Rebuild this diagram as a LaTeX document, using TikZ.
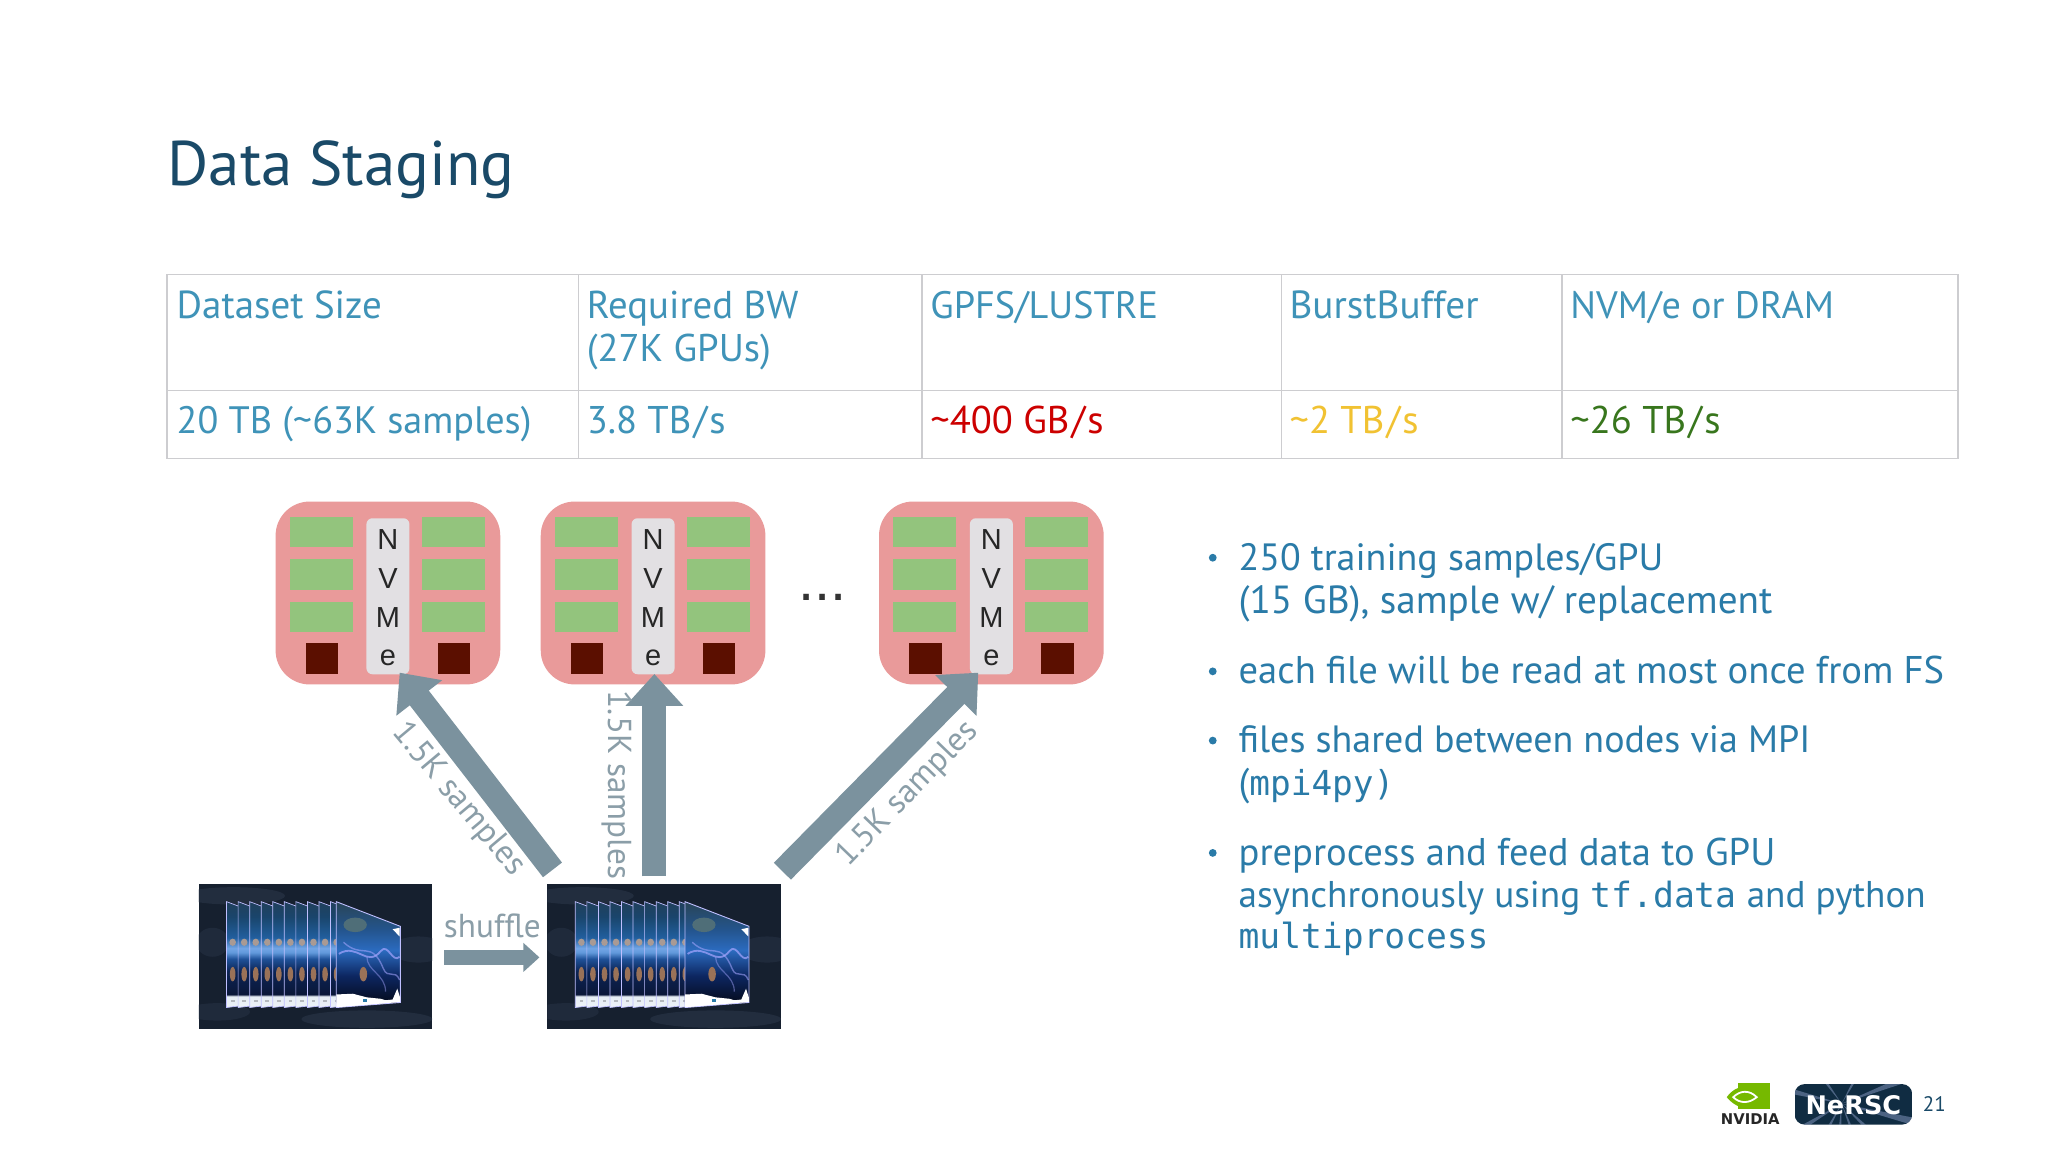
\documentclass[tikz,border=0pt]{standalone}
\usepackage{fontspec}
\setmainfont{PT Sans}
\newfontfamily\monof{DejaVu Sans Mono}
\newfontfamily\helv{Liberation Sans}
\newfontfamily\heavy{DejaVu Sans}
\usetikzlibrary{arrows.meta,shapes.geometric}
\definecolor{titlec}{HTML}{1A4A68}
\definecolor{tabc}{HTML}{3F93B8}
\definecolor{bodyc}{HTML}{2A7BA8}
\definecolor{gridc}{HTML}{CDCDD0}
\definecolor{pinkc}{HTML}{E99A9A}
\definecolor{greenc}{HTML}{93C47D}
\definecolor{darkc}{HTML}{5B0F00}
\definecolor{barc}{HTML}{E2E0E3}
\definecolor{arrowc}{HTML}{7B929E}
\definecolor{labelc}{HTML}{8B9EA8}
\definecolor{redv}{HTML}{CC0000}
\definecolor{yelv}{HTML}{F1C232}
\definecolor{grnv}{HTML}{38761D}
\definecolor{imgbg}{HTML}{16202F}
\definecolor{cloudc}{HTML}{2E3A4E}
\definecolor{orangec}{HTML}{9A7258}
\definecolor{tanc}{HTML}{A99A94}
\definecolor{landc}{HTML}{4F6E78}
\definecolor{nvgreen}{HTML}{76B900}
\definecolor{nerscbg}{HTML}{102C42}
\definecolor{stampc}{HTML}{B4B8BE}
\pgfdeclareverticalshading{panelshade}{100bp}{
 rgb(0bp)=(0.93,0.95,0.97); rgb(25bp)=(0.93,0.95,0.97); rgb(30.5bp)=(0.90,0.93,0.96); rgb(31bp)=(0.04,0.09,0.22);
 rgb(42bp)=(0.05,0.14,0.33); rgb(48bp)=(0.12,0.32,0.60); rgb(51bp)=(0.38,0.60,0.86);
 rgb(53bp)=(0.45,0.65,0.90); rgb(58bp)=(0.13,0.37,0.62); rgb(68bp)=(0.10,0.27,0.42); rgb(75bp)=(0.13,0.25,0.36); rgb(100bp)=(0.13,0.25,0.36)}
\pgfdeclareverticalshading{bigshade}{100bp}{
 rgb(0bp)=(1,1,1); rgb(25bp)=(1,1,1); rgb(27bp)=(1,1,1); rgb(28bp)=(0.02,0.05,0.13);
 rgb(40bp)=(0.05,0.15,0.38); rgb(52bp)=(0.17,0.42,0.75); rgb(62bp)=(0.14,0.33,0.55); rgb(75bp)=(0.16,0.27,0.34); rgb(100bp)=(0.16,0.27,0.34)}
\tikzset{
 fs/.style={font=\fontsize{#1}{#1}\selectfont},
 titletext/.style={anchor=base west,inner sep=0pt,text=titlec,fs=31.5},
 tabtext/.style={anchor=base west,inner sep=0pt,text=tabc,fs=19.3},
 bullettext/.style={anchor=base west,inner sep=0pt,text=bodyc,fs=19.2},
 bulletdot/.style={circle,fill=bodyc,inner sep=0pt,minimum size=3.9pt},
 grid/.style={draw=gridc,line width=0.7pt},
 nvletter/.style={inner sep=0pt,text=black!85,font=\helv\fontsize{14.5}{14.5}\selectfont},
 fatarrow/.style={draw=arrowc,line width=12pt,-{Triangle[length=16pt,width=28pt]}},
 smallarrow/.style={draw=arrowc,line width=7.2pt,-{Triangle[length=8pt,width=14pt]}},
 flowlabel/.style={inner sep=0pt,text=labelc,fs=16.6},
}
\newcommand{\slsh}{\kern1.1pt/\kern1.1pt}
\newcommand{\hpcnode}[2]{%
 \begin{scope}[shift={(#1,384)}]
  \fill[pinkc,rounded corners=17pt] (0,0) rectangle (172,140);
  \foreach \yy/\zz in {12/35,44/68,77/100}{
   \fill[greenc] (11,\yy) rectangle (59,\zz);
   \fill[greenc] (112,\yy) rectangle (160,\zz);}
  \fill[darkc] (23,108) rectangle (48,132);
  \fill[darkc] (124,108) rectangle (149,132);
  \node[fill=barc,rounded corners=3pt,inner sep=0pt,minimum width=21.5pt,minimum height=78pt] (bar#2) at (86,72.5) {};
  \node[nvletter] (n#2) at (86,29) {N};
  \node[nvletter] (v#2) at (86,59) {V};
  \node[nvletter] (m#2) at (86,89) {M};
  \node[nvletter] (e#2) at (86,120) {e};
 \end{scope}}
\newcommand{\satimage}[2]{%
 \begin{scope}[shift={(#1,677)},x=116.9pt,y=-72.5pt]
  \fill[imgbg] (0,0) rectangle (1,1);
  \begin{scope}
   \clip (0,0) rectangle (1,1);
   \fill[cloudc,opacity=.5] (.15,.08) ellipse (.22 and .06);
   \fill[cloudc,opacity=.5] (.72,.93) ellipse (.28 and .06);
   \fill[cloudc,opacity=.4] (.94,.45) ellipse (.12 and .09);
   \fill[cloudc,opacity=.4] (.08,.88) ellipse (.14 and .06);
   \fill[cloudc,opacity=.4] (.06,.4) ellipse (.07 and .1);
  \end{scope}
  \foreach \i in {0,...,9}{
   \pgfmathsetmacro{\ua}{.12+\i*.0494}
   \pgfmathsetmacro{\ub}{\ua+.0494+.025}
   \pgfmathsetmacro{\uc}{\ua+.026}
   \shade[shading=panelshade,draw=white!75!blue,line width=.35pt]
     (\ua,.12) -- (\ub,.165) -- (\ub,.835) -- (\ua,.85) -- cycle;
   \fill[orangec] (\uc,.62) ellipse (.012 and .05);
   \fill[tanc] (\uc,.40) ellipse (.014 and .025);
   \fill[stampc] (\ua+.018,.795) rectangle (\ua+.034,.815);
  }
  \shade[shading=bigshade,draw=white!75!blue,line width=.45pt]
    (.589,.12) -- (.863,.29) -- (.863,.815) -- (.589,.85) -- cycle;
  \fill[landc] (.67,.28) ellipse (.05 and .05);
  \fill[orangec] (.705,.62) ellipse (.016 and .05);
  \fill[white] (.83,.31) -- (.86,.3) -- (.86,.36) -- cycle;
  \draw[white!65!blue,opacity=.7,line width=.9pt] (.6,.48) .. controls (.68,.40) and (.72,.58) .. (.78,.46) .. controls (.81,.40) and (.83,.55) .. (.86,.50);
  \draw[white!65!blue,opacity=.55,line width=.7pt] (.62,.40) .. controls (.70,.52) and (.74,.38) .. (.79,.58) .. controls (.81,.66) and (.84,.58) .. (.86,.66);
  \draw[white!65!blue,opacity=.45,line width=.6pt] (.72,.50) .. controls (.72,.60) and (.80,.62) .. (.80,.74);
  \fill[white] (.59,.76) -- (.66,.755) -- (.72,.78) -- (.78,.79) -- (.80,.80) -- (.83,.795) -- (.85,.72) -- (.862,.78) -- (.862,.812) -- (.59,.848) -- cycle;
  \fill[bodyc] (.705,.79) rectangle (.722,.815);
 \end{scope}}
\begin{document}
\begin{tikzpicture}[x=0.65306pt,y=-0.65306pt]
\useasboundingbox (0,0) rectangle (1568,882);
\fill[white] (0,0) rectangle (1568,882);

% title
\node[titletext] (title) at (128,142) {Data Staging};

% table
\draw[grid] (128,210) rectangle (1499,351);
\draw[grid] (128,299) -- (1499,299);
\foreach \xx in {443,706,981,1196} \draw[grid] (\xx,210) -- (\xx,351);
\node[tabtext,fs=19.5] (h1) at (135,244) {Dataset Size};
\node[tabtext,fs=19.4] (h2) at (449,244) {Required BW};
\node[tabtext] (h2b) at (449,277) {(27K GPUs)};
\node[tabtext,fs=19.1] (h3) at (712,244) {GPFS/LUSTRE};
\node[tabtext,fs=19.6] (h4) at (987,244) {BurstBuffer};
\node[tabtext,fs=19.1] (h5) at (1202,244) {NVM/e or DRAM};
\node[tabtext,fs=19.1] (c1) at (135,332) {20 TB (\textasciitilde 63K samples)};
\node[tabtext] (c2) at (449,332) {3.8 TB\slsh s};
\node[tabtext,text=redv] (c3) at (712,332) {\textasciitilde 400 GB\slsh s};
\node[tabtext,text=yelv] (c4) at (987,332) {\textasciitilde 2 TB\slsh s};
\node[tabtext,text=grnv] (c5) at (1202,332) {\textasciitilde 26 TB\slsh s};

% compute nodes
\hpcnode{211}{A}
\hpcnode{414}{B}
\hpcnode{673}{C}
\node[inner sep=0pt,text=black!80,font=\helv\fontsize{29}{29}\selectfont] (dots) at (629.5,457) {...};

% images
\satimage{152}{L}
\satimage{419}{R}
\coordinate (tailA) at (423,666);
\coordinate (tailB) at (501,671);
\coordinate (tailC) at (599,667);
\coordinate (tipA) at (306,515);
\coordinate (tipB) at (501,516);
\coordinate (tipC) at (749,515);
\coordinate (shufA) at (340,733);
\coordinate (shufB) at (413,733);

% arrows
\draw[fatarrow] (tailA) -- (tipA);
\draw[fatarrow] (tailB) -- (tipB);
\draw[fatarrow] (tailC) -- (tipC);
\draw[smallarrow] (shufA) -- (shufB);

% flow labels
\node[flowlabel,rotate=-50] (la) at (351,612) {1.5K samples};
\node[flowlabel,rotate=-90] (lb) at (472,601) {1.5K samples};
\node[flowlabel,rotate=46] (lc) at (695,608) {1.5K samples};
\node[flowlabel,anchor=base] (ls) at (377,718) {shuffle};

% bullets
\node[bulletdot] (b1) at (928.5,427) {};
\node[bulletdot] (b2) at (928.5,514) {};
\node[bulletdot] (b3) at (928.5,567) {};
\node[bulletdot] (b4) at (928.5,653) {};
\node[bullettext,fs=19] (t1) at (948,437) {250 training samples/GPU};
\node[bullettext,fs=19.6] (t1b) at (948,470) {(15 GB), sample w/ replacement};
\node[bullettext,fs=19.3] (t2) at (948,523.5) {each file will be read at most once from FS};
\node[bullettext,fs=19] (t3) at (948,576.5) {files shared between nodes via MPI};
\node[bullettext] (t3b) at (948,609) {(\monof\fontsize{17.2}{17.2}\selectfont mpi4py)};
\node[bullettext,fs=19.3] (t4) at (948,663) {preprocess and feed data to GPU};
\node[bullettext,fs=18.6] (t4b) at (948,695) {asynchronously using {\monof\fontsize{17.4}{17.4}\selectfont tf.data} and python};
\node[bullettext] (t4c) at (948,726) {\monof\fontsize{17.3}{17.3}\selectfont multiprocess};

% NVIDIA logo
\fill[nvgreen] (1331,829) rectangle (1355,849);
\fill[nvgreen] (1322,840) .. controls (1327,833) and (1334,831) .. (1340,832) -- (1340,848) .. controls (1333,849) and (1327,846) .. (1322,840) -- cycle;
\draw[white,line width=.9pt] (1327,840) .. controls (1332,835) and (1339,834) .. (1345,840) .. controls (1339,845) and (1332,845) .. (1327,840) -- cycle;
\fill[nvgreen] (1336,840) circle (2.5);
\node[inner sep=0pt,text=black!85,font=\heavy\bfseries\fontsize{7.4}{7.4}\selectfont] (nv) at (1340,857) {NVIDIA};

% NERSC logo
\begin{scope}
 \path[clip,rounded corners=5pt] (1374,830) -- (1464,830) -- (1464,861) -- (1374,861) -- cycle;
 \fill[nerscbg] (1374,830) rectangle (1464,861);
 \foreach \ang in {15,45,70,95,120,150,195,235,300,340}{
  \fill[cyan!40!blue!35!white,opacity=.4] (1410,845) -- ++(\ang-4:70) -- ++(\ang+90:7) -- cycle;}
\end{scope}
\node[inner sep=0pt,text=white,font=\heavy\bfseries\fontsize{12.8}{12.8}\selectfont] (ne) at (1419,846) {NeRSC};
\node[inner sep=0pt,text=titlec,fs=10.5] (pg) at (1481,845) {21};
\end{tikzpicture}
\end{document}
